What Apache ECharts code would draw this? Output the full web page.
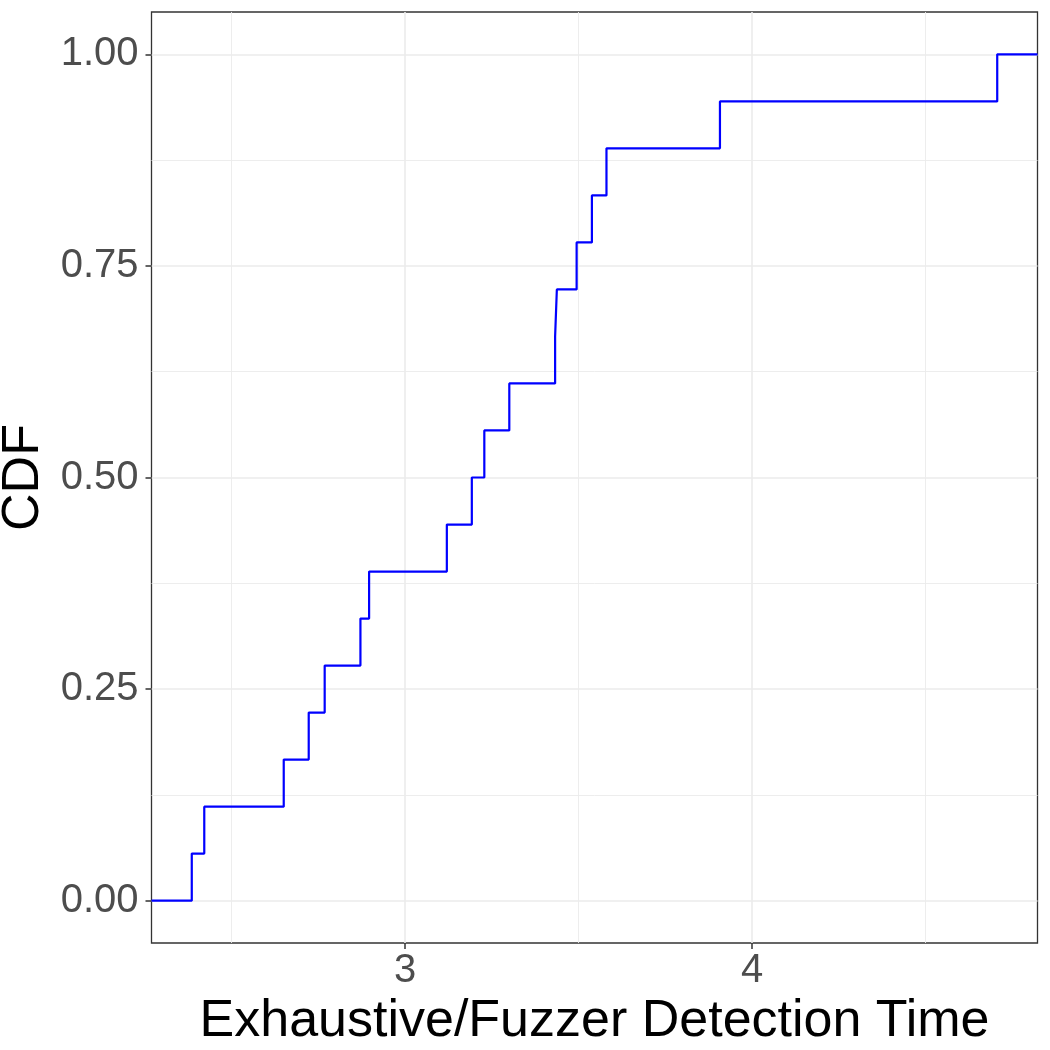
<!DOCTYPE html>
<html>
<head>
<meta charset="utf-8">
<script src="https://cdn.jsdelivr.net/npm/echarts@6/dist/echarts.min.js"></script>
<style>
  html, body { margin: 0; padding: 0; background: #fff; }
  #chart { width: 1050px; height: 1050px; }
</style>
</head>
<body>
<div id="chart"></div>
<script>
// step positions (detection time ratio) and cumulative fraction at each step
var detectTimes = [2.385, 2.421, 2.650, 2.722, 2.768, 2.871, 2.896, 3.120, 3.192,
                   3.228, 3.300, 3.432, 3.437, 3.494, 3.538, 3.580, 3.907, 4.706];
var cdfValues = [0.0556, 0.1111, 0.1667, 0.2222, 0.2778, 0.3333, 0.3889, 0.4444, 0.5,
                 0.5556, 0.6111, 0.6667, 0.7222, 0.7778, 0.8333, 0.8889, 0.9444, 1];

var xTicks = [3, 4];
var xMinorTicks = [2.5, 3.5, 4.5];
var yTicks = [0, 0.25, 0.5, 0.75, 1];
var yMinorTicks = [0.125, 0.375, 0.625, 0.875];

// ggplot-like 5% expansion of the axis ranges
var xSpan = detectTimes[detectTimes.length - 1] - detectTimes[0];
var xMin = detectTimes[0] - 0.05 * xSpan;
var xMax = detectTimes[detectTimes.length - 1] + 0.05 * xSpan;
var yMin = -0.05, yMax = 1.05;

// ecdf padded out to both panel edges
var lineData = [[xMin, 0]];
detectTimes.forEach(function (x, i) { lineData.push([x, cdfValues[i]]); });
lineData.push([xMax, 1]);

var font = 'Liberation Sans, Arial, Helvetica, sans-serif';
var gridColor = '#EBEBEB';

var chart = echarts.init(document.getElementById('chart'), null, { renderer: 'canvas' });

chart.setOption({
    animation: false,
    backgroundColor: '#fff',
    grid: {
        left: 151.5,
        right: 12.5,
        top: 12,
        bottom: 107,
        containLabel: false,
        outerBoundsMode: 'none',
        show: true,
        borderColor: '#333333',
        borderWidth: 1.3,
        backgroundColor: 'transparent'
    },
    xAxis: [
        {
            type: 'value',
            min: xMin,
            max: xMax,
            position: 'bottom',
            name: 'Exhaustive/Fuzzer Detection Time',
            nameLocation: 'middle',
            nameGap: 51,
            nameTextStyle: { fontFamily: font, fontSize: 52, color: '#000' },
            axisLine: { show: false, onZero: false },
            axisTick: { show: true, customValues: xTicks, length: 6, lineStyle: { color: '#333333', width: 1.5 } },
            axisLabel: { customValues: xTicks, fontFamily: font, fontSize: 40, color: '#4D4D4D', margin: 8 },
            splitLine: { show: true, lineStyle: { color: gridColor, width: 1.6 } }
        },
        {
            type: 'value',
            min: xMin,
            max: xMax,
            position: 'bottom',
            axisLine: { show: false, onZero: false },
            axisTick: { show: false, customValues: xMinorTicks },
            axisLabel: { show: false, customValues: xMinorTicks },
            splitLine: { show: true, lineStyle: { color: gridColor, width: 0.9 } }
        }
    ],
    yAxis: [
        {
            type: 'value',
            min: yMin,
            max: yMax,
            position: 'left',
            name: 'CDF',
            nameLocation: 'middle',
            nameGap: 93,
            nameRotate: 90,
            nameTextStyle: { fontFamily: font, fontSize: 52, color: '#000' },
            axisLine: { show: false, onZero: false },
            axisTick: { show: true, customValues: yTicks, length: 6, lineStyle: { color: '#333333', width: 1.5 } },
            axisLabel: {
                customValues: yTicks,
                fontFamily: font, fontSize: 40, color: '#4D4D4D', margin: 13,
                formatter: function (v) { return v.toFixed(2); }
            },
            splitLine: { show: true, lineStyle: { color: gridColor, width: 1.6 } }
        },
        {
            type: 'value',
            min: yMin,
            max: yMax,
            position: 'left',
            axisLine: { show: false, onZero: false },
            axisTick: { show: false, customValues: yMinorTicks },
            axisLabel: { show: false, customValues: yMinorTicks },
            splitLine: { show: true, lineStyle: { color: gridColor, width: 0.9 } }
        }
    ],
    series: [
        {
            type: 'line',
            xAxisIndex: 0,
            yAxisIndex: 0,
            step: 'end',
            showSymbol: false,
            data: lineData,
            lineStyle: { color: '#0000FF', width: 2.2 },
            clip: true
        }
    ]
});
</script>
</body>
</html>
